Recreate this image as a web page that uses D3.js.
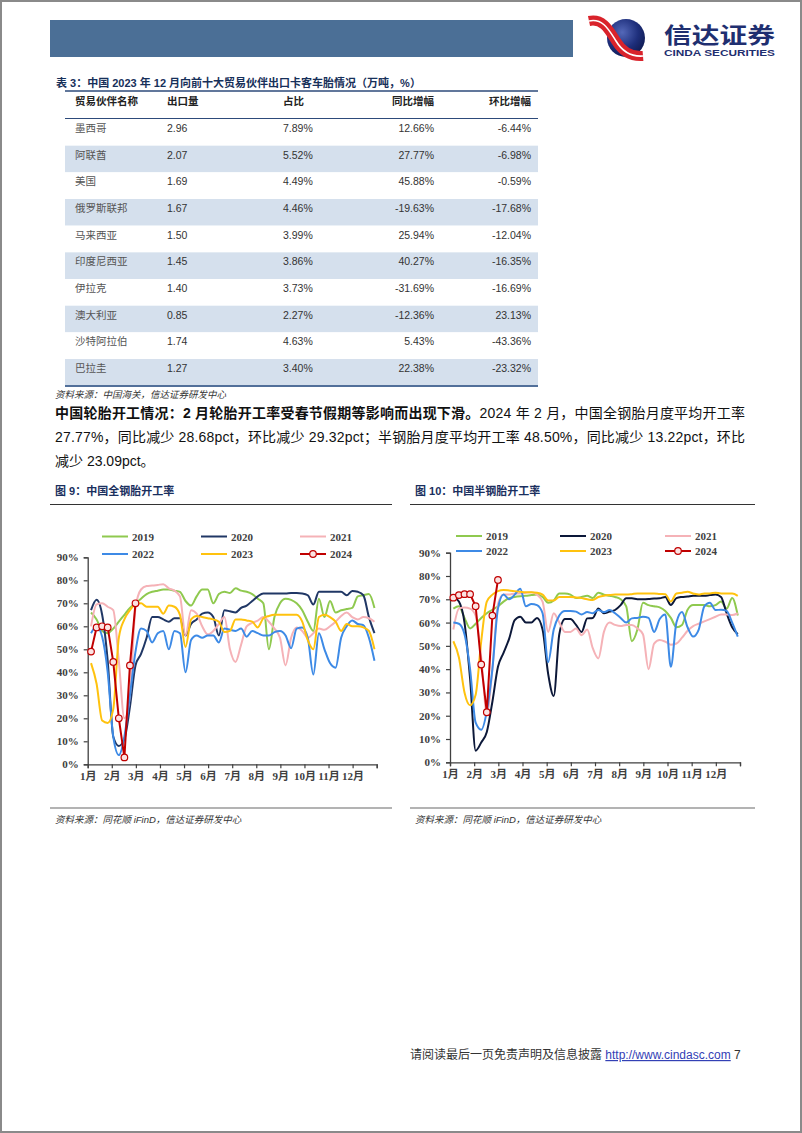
<!DOCTYPE html>
<meta charset="utf-8">
<script src="https://d3js.org/d3.v7.min.js"></script>
<style>
body { margin: 0; background: #fff; }
svg { display: block; }
</style>
<body>
<div id="page"></div>
<script>
// table 3 data
var tableHeads = ["贸易伙伴名称", "出口量", "占比", "同比增幅", "环比增幅"];
var partners = ["墨西哥", "阿联酋", "美国", "俄罗斯联邦", "马来西亚", "印度尼西亚", "伊拉克", "澳大利亚", "沙特阿拉伯", "巴拉圭"];
var exportVol = ["2.96", "2.07", "1.69", "1.67", "1.50", "1.45", "1.40", "0.85", "1.74", "1.27"];
var shareOf = ["7.89%", "5.52%", "4.49%", "4.46%", "3.99%", "3.86%", "3.73%", "2.27%", "4.63%", "3.40%"];
var yoyChg = ["12.66%", "27.77%", "45.88%", "-19.63%", "25.94%", "40.27%", "-31.69%", "-12.36%", "5.43%", "22.38%"];
var momChg = ["-6.44%", "-6.98%", "-0.59%", "-17.68%", "-12.04%", "-16.35%", "-16.69%", "23.13%", "-43.36%", "-23.32%"];

// chart axes
var years = ["2019", "2020", "2021", "2022", "2023", "2024"];
var monthLabels = ["1月", "2月", "3月", "4月", "5月", "6月", "7月", "8月", "9月", "10月", "11月", "12月"];
var yTicks = [0, 10, 20, 30, 40, 50, 60, 70, 80, 90];

// 图9 全钢胎开工率 (weekly, %)
var allSteel2019 = [66,63,58,57,59,62,65,68,70,72,74,75,75.5,76,76,75.5,75,71,69,73,76,76,70,74,75,74.5,76.5,75.5,75,74,72,70,50,64,70,72,71.5,70,67,62,58,72,64,71,66,67,67.5,68,73,73.5,74,68];
var allSteel2020 = [67,71.5,65,45,12,8,11,25,43,48,55,64,64,63,62,63.5,63.5,56,61,63,65.5,66,64,56,67,66.5,66,68,69,71,73,74.3,74.3,74.3,74.3,74.3,74.5,74.5,74.3,73.5,69.5,75,75,75,75,75,73.5,75.4,75,73.5,64,57];
var allSteel2021 = [60,69.5,70,68.5,67,45,20,30,68,76,77.5,77.7,78,78.3,76.5,75.5,73,56,67,65.5,60,56.5,58,61,64,50,44.5,52,60,61.5,62.5,64,62,59,55,43,55,59.5,58,55,57,59,58.5,60,62,64.5,66,64,63,64,63.5,62];
var allSteel2022 = [57,60,55.5,40,12,4,12,30,49,59,58,53,57,58,50,58,57,40,54,56,55,56,56,53,59,58.5,58,59,55.5,58,57,56,56,57.5,58,56,50.5,59,59.5,55,39,57,50,44,42,55,60,62.5,61,60.5,55,45];
var allSteel2023 = [44,35,19,18,24,55,63,67,69.5,70,68.5,68.5,68.5,65.5,69,68.5,65,51,63,64.5,64,63.5,63,62,57.5,58,63,63,62.5,62,59.5,63.5,64.5,65,65,65,65,65,62,54,50,64,65,64,62,58,61,60,60,59.5,58,50];
var allSteel2024 = [49,59.5,60,59.5,44.5,20,3,43,70];

// 图10 半钢胎开工率 (weekly, %)
var semiSteel2019 = [66,67,62,57.5,59.5,62,64,65.5,67,69,70.5,71,71.3,71.5,71.8,72,71,68.5,69.5,72.5,72.5,72,70.5,71,71.5,70.5,72.8,72,71.5,71,70,67,52,57,68.5,67.5,67,66.5,65,62,58,59,65.5,67.5,67.5,67.5,67,67.5,69,66,70.5,63];
var semiSteel2020 = [71,69,60,36,5,8.5,13,26,41,47,53,61,62.5,60,60,62,57,38,28.5,55,61.5,61.5,59,56,61.8,62,66,64,64.7,65.4,67.5,70.4,70.4,70,70,70.1,70.3,70.4,71,67.5,70.5,71,71.2,71.5,71.5,71.5,71.8,72,71,64,58,55];
var semiSteel2021 = [57,66,66.5,66,63,45,21,40,68,72,72,72.5,72.5,72.8,73,72,69,56,64,60,56,56,57.5,54.6,57,49,44.6,56,60,59,58.5,59,59,57.5,55,40,51,52.5,51.8,50.5,51,53.5,56.5,58.5,59.5,60.5,61.5,62.5,63.5,63.5,63.2,64];
var semiSteel2022 = [60,59.5,55,40,17,14,22,40,66,72,70,72,74.5,67,68,67.5,64,43,57,63,65,65,64.7,63.5,64.5,64,65.4,64.5,65.4,64,62,60,61.8,62,62.5,62,56,61.5,63.5,41,60,64.5,58,54,57,67,68.5,65.4,65.5,65,60,54];
var semiSteel2023 = [52,45,30,24.5,29,52,69,72,73.5,74,73.8,73.5,73.2,73,73,72.8,72,69.5,69.5,71,71,71,70.8,70.5,70,69.7,71,71.5,71.8,72,72,72,72.2,72.5,72.5,72.5,72.5,72.3,72.2,69,72.5,72.8,73.2,72.5,72,72.5,72.5,72.8,72.5,72.5,72.5,71.5];
var semiSteel2024 = [70.7,71.8,72.2,72.2,67,42,21.5,63,78.3];

var SANS = "'Liberation Sans', Arial, 'Noto Sans CJK SC', sans-serif";
var SERIF = "'Liberation Serif', 'Times New Roman', 'Noto Sans CJK SC', serif";
var NAVY = "#1a2f5e";

var svg = d3.select("#page").append("svg")
  .attr("width", 802)
  .attr("height", 1133);

svg.append("rect").attr("x", 1).attr("y", 1).attr("width", 800).attr("height", 1131)
  .attr("fill", "#fff").attr("stroke", "#8a8a8a").attr("stroke-width", 2);

// header bar and logo
svg.append("rect").attr("x", 50).attr("y", 20).attr("width", 523).attr("height", 37).attr("fill", "#4b6f96");

var defs = svg.append("defs");
var grad = defs.append("radialGradient").attr("id", "sph").attr("cx", "40%").attr("cy", "35%").attr("r", "70%");
grad.append("stop").attr("offset", "0%").attr("stop-color", "#5468b8");
grad.append("stop").attr("offset", "60%").attr("stop-color", "#1e2f7c");
grad.append("stop").attr("offset", "100%").attr("stop-color", "#0f1a50");

svg.append("circle").attr("cx", 626).attr("cy", 38).attr("r", 19).attr("fill", "url(#sph)");
var ribbon = "M589,21 C603,18 609,30 616,41 C622,51 630,57 643,56";
svg.append("path").attr("d", ribbon).attr("fill", "none").attr("stroke", "#d9232b").attr("stroke-width", 10);
svg.append("path").attr("d", ribbon).attr("fill", "none").attr("stroke", "#fff").attr("stroke-width", 1.6);

svg.append("text").attr("x", 664).attr("y", 43)
  .attr("font-family", "'Noto Sans CJK SC', sans-serif").attr("font-weight", 700)
  .attr("font-size", 22).attr("fill", "#1f2f70")
  .attr("textLength", 111).attr("lengthAdjust", "spacingAndGlyphs")
  .text("信达证券");
svg.append("text").attr("x", 664).attr("y", 56)
  .attr("font-family", SANS).attr("font-weight", 700)
  .attr("font-size", 9).attr("fill", "#1f2f70")
  .attr("textLength", 111).attr("lengthAdjust", "spacingAndGlyphs")
  .text("CINDA SECURITIES");

// table 3
svg.append("text").attr("x", 56).attr("y", 87)
  .attr("font-family", SANS).attr("font-weight", 700).attr("font-size", 11).attr("fill", "#17305a")
  .text("表 3：中国 2023 年 12 月向前十大贸易伙伴出口卡客车胎情况（万吨，%）");

var tx0 = 65, tx1 = 538, rowTop = 119, rowH = 26.67;
var colX = [75, 167, 283, 434, 531];
var colAnchor = ["start", "start", "start", "end", "end"];

var rows = partners.map(function(p, i) {
  return [p, exportVol[i], shareOf[i], yoyChg[i], momChg[i]];
});

svg.selectAll(".band").data(rows).enter().append("rect")
  .attr("x", tx0).attr("width", tx1 - tx0)
  .attr("y", function(d, i) { return rowTop + i * rowH; })
  .attr("height", rowH)
  .attr("fill", function(d, i) { return i % 2 ? "#d5e0ed" : "#fff"; });

svg.append("line").attr("x1", tx0).attr("x2", tx1).attr("y1", 91).attr("y2", 91)
  .attr("stroke", "#2d4a7a").attr("stroke-width", 1.5);
svg.append("line").attr("x1", tx0).attr("x2", tx1).attr("y1", 118.5).attr("y2", 118.5)
  .attr("stroke", "#2d4a7a").attr("stroke-width", 1);
svg.append("line").attr("x1", tx0).attr("x2", tx1).attr("y1", 386).attr("y2", 386)
  .attr("stroke", "#52709a").attr("stroke-width", 2);

svg.selectAll(".head").data(tableHeads).enter().append("text")
  .attr("x", function(d, i) { return colX[i]; })
  .attr("y", 105)
  .attr("text-anchor", function(d, i) { return colAnchor[i]; })
  .attr("font-family", SANS).attr("font-weight", 700).attr("font-size", 10.5).attr("fill", "#222")
  .text(function(d) { return d; });

rows.forEach(function(r, i) {
  svg.selectAll(null).data(r).enter().append("text")
    .attr("x", function(d, j) { return colX[j]; })
    .attr("y", 132 + i * rowH)
    .attr("text-anchor", function(d, j) { return colAnchor[j]; })
    .attr("font-family", SANS).attr("font-size", 10.5)
    .attr("fill", function(d, j) { return j === 0 ? "#555" : "#333"; })
    .text(function(d) { return d; });
});

svg.append("text").attr("x", 55).attr("y", 398)
  .attr("font-family", SANS).attr("font-style", "italic").attr("font-size", 9.5).attr("fill", "#333")
  .text("资料来源：中国海关，信达证券研发中心");

// paragraph
var p1 = svg.append("text").attr("x", 55).attr("y", 418)
  .attr("font-family", SANS).attr("font-size", 14).attr("fill", "#111")
  .attr("textLength", 690).attr("lengthAdjust", "spacing");
p1.append("tspan").attr("font-weight", 700).text("中国轮胎开工情况：2 月轮胎开工率受春节假期等影响而出现下滑。");
p1.append("tspan").text("2024 年 2 月，中国全钢胎月度平均开工率");
svg.append("text").attr("x", 55).attr("y", 442)
  .attr("font-family", SANS).attr("font-size", 14).attr("fill", "#111")
  .attr("textLength", 690).attr("lengthAdjust", "spacing")
  .text("27.77%，同比减少 28.68pct，环比减少 29.32pct；半钢胎月度平均开工率 48.50%，同比减少 13.22pct，环比");
svg.append("text").attr("x", 55).attr("y", 466)
  .attr("font-family", SANS).attr("font-size", 14).attr("fill", "#111")
  .text("减少 23.09pct。");

// figure frames
function figureFrame(fx0, fx1, title) {
  svg.append("text").attr("x", fx0 + 5).attr("y", 495)
    .attr("font-family", SANS).attr("font-weight", 700).attr("font-size", 11).attr("fill", NAVY)
    .text(title);
  svg.append("line").attr("x1", fx0).attr("x2", fx1).attr("y1", 504.5).attr("y2", 504.5)
    .attr("stroke", "#333").attr("stroke-width", 1.2);
  svg.append("line").attr("x1", fx0).attr("x2", fx1).attr("y1", 808).attr("y2", 808)
    .attr("stroke", "#9a9a9a").attr("stroke-width", 1.5);
  svg.append("text").attr("x", fx0 + 5).attr("y", 823)
    .attr("font-family", SANS).attr("font-style", "italic").attr("font-size", 9.5).attr("fill", "#333")
    .text("资料来源：同花顺 iFinD，信达证券研发中心");
}
figureFrame(50, 392, "图 9：中国全钢胎开工率");
figureFrame(410, 755, "图 10：中国半钢胎开工率");

function drawChart(cfg) {
  var g = svg.append("g");
  var x = d3.scaleLinear().domain([0, 52]).range([cfg.x0, cfg.x1]);
  var y = d3.scaleLinear().domain([0, 90]).range([cfg.y0, cfg.y1]);

  var yAxis = g.append("g").attr("transform", "translate(" + cfg.x0 + ",0)")
    .call(d3.axisLeft(y).tickValues(yTicks).tickSize(4).tickPadding(5)
      .tickFormat(function(d) { return d + "%"; }));
  var monthPos = d3.range(0, 13).map(function(m) { return m * 52 / 12; });
  var xAxis = g.append("g").attr("transform", "translate(0," + cfg.y0 + ")")
    .call(d3.axisBottom(x).tickValues(monthPos).tickSize(4).tickPadding(4)
      .tickFormat(function(d, i) { return monthLabels[i] || ""; }));

  [yAxis, xAxis].forEach(function(a) {
    a.select(".domain").attr("stroke", "#404040").attr("stroke-width", 1.3);
    a.selectAll(".tick line").attr("stroke", "#404040").attr("stroke-width", 1.2);
    a.selectAll(".tick text").attr("font-family", SERIF).attr("font-weight", 700)
      .attr("font-size", 11).attr("fill", "#404040");
  });

  var line = d3.line()
    .x(function(d, i) { return x(i + 0.6); })
    .y(function(d) { return y(d); });

  cfg.series.forEach(function(s, k) {
    var last = k === cfg.series.length - 1;
    g.append("path").datum(s)
      .attr("fill", "none")
      .attr("stroke", cfg.colors[k])
      .attr("stroke-width", 2)
      .attr("stroke-linejoin", "round")
      .attr("d", line.curve(last ? d3.curveLinear : d3.curveMonotoneX));
    if (last) {
      g.selectAll(null).data(s).enter().append("circle")
        .attr("cx", function(d, i) { return x(i + 0.6); })
        .attr("cy", function(d) { return y(d); })
        .attr("r", 3.3)
        .attr("fill", "#fbe3e3")
        .attr("stroke", cfg.colors[k]).attr("stroke-width", 1.2);
    }
  });

  // legend
  years.forEach(function(yr, k) {
    var lx = cfg.legX[k % 3], ly = cfg.legY[Math.floor(k / 3)];
    g.append("line").attr("x1", lx).attr("x2", lx + 26).attr("y1", ly).attr("y2", ly)
      .attr("stroke", cfg.colors[k]).attr("stroke-width", 2);
    if (k === 5) {
      g.append("circle").attr("cx", lx + 13).attr("cy", ly).attr("r", 3.3)
        .attr("fill", "#fbe3e3").attr("stroke", cfg.colors[k]).attr("stroke-width", 1.2);
    }
    g.append("text").attr("x", lx + 30).attr("y", ly + 4)
      .attr("font-family", SERIF).attr("font-weight", 700).attr("font-size", 11).attr("fill", "#404040")
      .text(yr);
  });
}

drawChart({
  x0: 87.7, x1: 376.7, y0: 764.3, y1: 557.3,
  legX: [102, 201, 300], legY: [536.5, 554],
  colors: ["#8fc94f", "#203765", "#f5b2b7", "#3d8ae6", "#ffc20e", "#c00000"],
  series: [allSteel2019, allSteel2020, allSteel2021, allSteel2022, allSteel2023, allSteel2024]
});

drawChart({
  x0: 450, x1: 740, y0: 762.3, y1: 552.7,
  legX: [456, 560, 665], legY: [536, 551],
  colors: ["#8fc94f", "#0c1839", "#f5b2b7", "#3d8ae6", "#ffc20e", "#c00000"],
  series: [semiSteel2019, semiSteel2020, semiSteel2021, semiSteel2022, semiSteel2023, semiSteel2024]
});

// footer
var foot = svg.append("text").attr("x", 410).attr("y", 1059)
  .attr("font-family", SANS).attr("font-size", 12).attr("fill", "#333");
foot.append("tspan").text("请阅读最后一页免责声明及信息披露 ");
foot.append("tspan").attr("fill", "#3340b5").attr("text-decoration", "underline").text("http://www.cindasc.com");
foot.append("tspan").text("  7");
</script>
</body>
